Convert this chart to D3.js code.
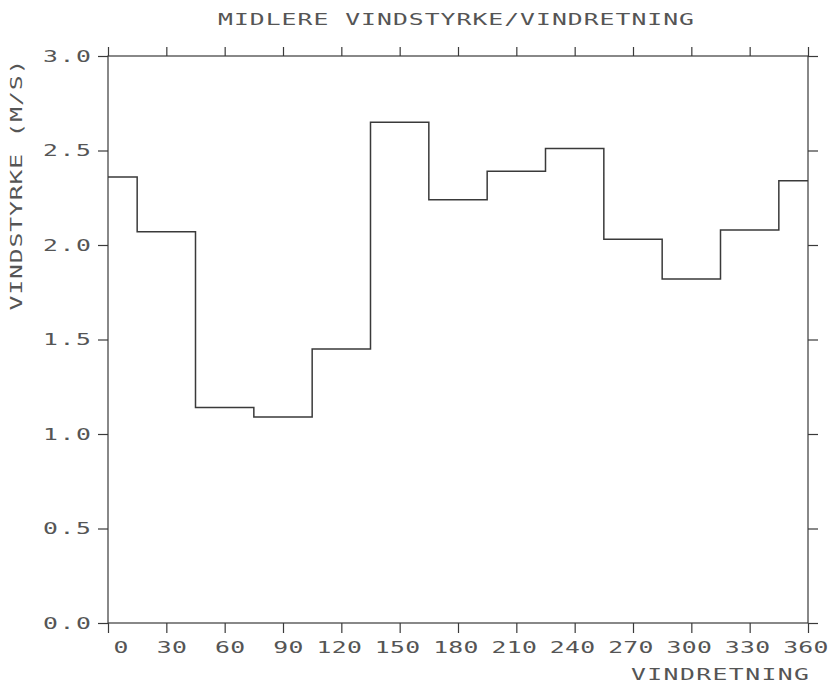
<!DOCTYPE html>
<html>
<head>
<meta charset="utf-8">
<script src="https://cdn.jsdelivr.net/npm/d3@7/dist/d3.min.js"></script>
<style>
  html, body { margin: 0; padding: 0; background: #fff; }
  svg { display: block; }
  text { font-family: "DejaVu Sans Mono", monospace; font-size: 15px; fill: #555; }
</style>
</head>
<body>
<svg id="chart" width="829" height="684"></svg>
<script>
// Mean wind speed per 30° direction sector (0/360 = north, split at the edges)
const directions = [0, 30, 60, 90, 120, 150, 180, 210, 240, 270, 300, 330, 360];
const speeds     = [2.36, 2.07, 1.14, 1.09, 1.45, 2.65, 2.24, 2.39, 2.51, 2.03, 1.82, 2.08, 2.34];
const xTicks = [0, 30, 60, 90, 120, 150, 180, 210, 240, 270, 300, 330, 360];
const yTicks = [0, 0.5, 1.0, 1.5, 2.0, 2.5, 3.0];

const titleText = "MIDLERE VINDSTYRKE/VINDRETNING";
const xTitle = "VINDRETNING";
const yTitle = "VINDSTYRKE (M/S)";

const ink = "#3a3a3a";
const textInk = "#555";
const stretch = 1.65;   // wide plotter-style lettering
const svg = d3.select("#chart");
const plotLeft = 108, plotRight = 808, plotTop = 56, plotBottom = 623;

const x = d3.scaleLinear().domain([0, 360]).range([plotLeft, plotRight]);
const y = d3.scaleLinear().domain([0, 3]).range([plotBottom, plotTop]);

// Rebuild a text node as spaced characters (gap only between glyphs)
function spaceOut(textSel, str, gap) {
  textSel.text(null);
  [...str].forEach((ch, i) => {
    textSel.append("tspan").attr("dx", i ? gap : 0).text(ch);
  });
}

// frame
svg.append("rect")
  .attr("x", plotLeft).attr("y", plotTop)
  .attr("width", plotRight - plotLeft).attr("height", plotBottom - plotTop)
  .attr("fill", "none").attr("stroke", ink).attr("stroke-width", 1.2);

function styleAxis(g) {
  g.select(".domain").remove();
  g.selectAll(".tick line").attr("stroke", ink).attr("stroke-width", 1.2);
}

// bottom axis, labels set to the right of each tick
const gx = svg.append("g").attr("transform", `translate(0,${plotBottom})`)
  .call(d3.axisBottom(x).tickValues(xTicks).tickSize(10).tickFormat(d3.format("d")));
styleAxis(gx);
gx.selectAll(".tick text").each(function () {
  const t = d3.select(this);
  const s = t.text();
  t.attr("x", 0).attr("y", 0).attr("dy", null)
    .attr("text-anchor", "end")
    .attr("transform", `translate(20,30) scale(${stretch},1)`)
    .attr("fill", textInk).style("font-size", null).style("font-family", null);
  spaceOut(t, s, 0.2);
});

// top axis, ticks only
const gt = svg.append("g").attr("transform", `translate(0,${plotTop})`)
  .call(d3.axisTop(x).tickValues(xTicks).tickSize(9).tickFormat(""));
styleAxis(gt);

// left axis
const gy = svg.append("g").attr("transform", `translate(${plotLeft},0)`)
  .call(d3.axisLeft(y).tickValues(yTicks).tickSize(10).tickFormat(d3.format(".1f")));
styleAxis(gy);
gy.selectAll(".tick text").each(function () {
  const t = d3.select(this);
  const s = t.text();
  t.attr("x", 0).attr("y", 0).attr("dy", null)
    .attr("text-anchor", "end")
    .attr("transform", `translate(-17,5) scale(${stretch},1)`)
    .attr("fill", textInk).style("font-size", null).style("font-family", null);
  spaceOut(t, s, 1.0);
});

// right axis, ticks only
const gr = svg.append("g").attr("transform", `translate(${plotRight},0)`)
  .call(d3.axisRight(y).tickValues(yTicks).tickSize(10).tickFormat(""));
styleAxis(gr);

// sector steps
const steps = directions.map((d, i) => ({
  x0: Math.max(0, d - 15), x1: Math.min(360, d + 15), v: speeds[i]
}));
const pts = [];
steps.forEach(s => { pts.push([s.x0, s.v]); pts.push([s.x1, s.v]); });
svg.append("path")
  .datum(pts)
  .attr("fill", "none").attr("stroke", ink).attr("stroke-width", 1.5)
  .attr("d", d3.line().x(d => x(d[0])).y(d => y(d[1])));

// titles
const title = svg.append("text")
  .attr("text-anchor", "middle")
  .attr("transform", `translate(456,25) scale(${stretch},1)`);
spaceOut(title, titleText, 0.6);

const xt = svg.append("text")
  .attr("text-anchor", "end")
  .attr("transform", `translate(809,680) scale(${stretch},1)`);
spaceOut(xt, xTitle, 0.85);

const yt = svg.append("text")
  .attr("text-anchor", "middle")
  .attr("transform", `translate(22,185) rotate(-90) scale(${stretch},1)`);
spaceOut(yt, yTitle, 0.5);
</script>
</body>
</html>
